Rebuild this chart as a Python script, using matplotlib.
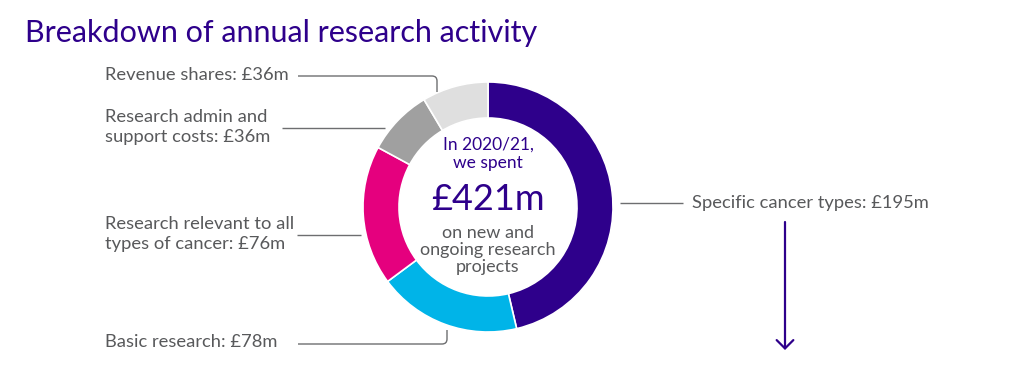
import matplotlib
matplotlib.use("Agg")
import matplotlib.pyplot as plt
from matplotlib.path import Path
from matplotlib.patches import PathPatch

plt.rcParams['font.family'] = ['Lato', 'DejaVu Sans']

# ---- data ----
categories = ["Specific cancer types", "Basic research",
              "Research relevant to all types of cancer",
              "Research admin and support costs", "Revenue shares"]
values = [195, 78, 76, 36, 36]
colors = ["#2E008B", "#00B4E8", "#E5007E", "#A0A0A0", "#DFDFDF"]
label_texts = ["Specific cancer types: £195m",
               "Basic research: £78m",
               "Research relevant to all\ntypes of cancer: £76m",
               "Research admin and\nsupport costs: £36m",
               "Revenue shares: £36m"]
total_label = "£421m"
title = "Breakdown of annual research activity"

PURPLE = "#2E008B"
GREY_TXT = "#58595B"
LINE = "#6D6E70"

W, H = 1024, 371
fig = plt.figure(figsize=(W / 100, H / 100), dpi=100)
ax = fig.add_axes([0, 0, 1, 1])

def Y(y):
    return H - y

cx, cy, R, RW = 488, Y(207), 125, 36
ax.pie(values, colors=colors, startangle=90, counterclock=False,
       radius=R, center=(cx, cy),
       wedgeprops=dict(width=RW, edgecolor="white", linewidth=1.2))
ax.set_xlim(0, W)
ax.set_ylim(0, H)
ax.set_aspect('equal')
ax.axis('off')

# title
ax.text(25, Y(33), title, fontsize=22, color=PURPLE, va='center', ha='left')

# labels
lab_fs = 13.2
ax.text(105, Y(75), label_texts[4], fontsize=lab_fs, color=GREY_TXT, va='center', ha='left')
ax.text(105, Y(127), label_texts[3], fontsize=lab_fs, color=GREY_TXT, va='center', ha='left',
        linespacing=1.25)
ax.text(105, Y(234), label_texts[2], fontsize=lab_fs, color=GREY_TXT, va='center', ha='left',
        linespacing=1.25)
ax.text(105, Y(342), label_texts[1], fontsize=lab_fs, color=GREY_TXT, va='center', ha='left')
ax.text(692, Y(203), label_texts[0], fontsize=lab_fs, color=GREY_TXT, va='center', ha='left')

# leader lines
def leader(points, codes):
    p = Path([(x, Y(y)) for x, y in points], codes)
    ax.add_patch(PathPatch(p, facecolor='none', edgecolor=LINE, lw=1.0))

leader([(298, 76), (432, 76), (437, 76), (437, 81), (437, 92)],
       [Path.MOVETO, Path.LINETO, Path.CURVE3, Path.CURVE3, Path.LINETO])
leader([(282, 128), (385, 128)], [Path.MOVETO, Path.LINETO])
leader([(297, 235), (361, 235)], [Path.MOVETO, Path.LINETO])
leader([(298, 344), (442, 344), (447, 344), (447, 339), (447, 330)],
       [Path.MOVETO, Path.LINETO, Path.CURVE3, Path.CURVE3, Path.LINETO])
leader([(620, 203), (683, 203)], [Path.MOVETO, Path.LINETO])

# arrow
ax.annotate('', xy=(785, Y(350)), xytext=(785, Y(222)),
            arrowprops=dict(arrowstyle='->,head_length=0.6,head_width=0.6',
                            color=PURPLE, lw=1.6, mutation_scale=10,
                            shrinkA=0, shrinkB=0))

# centre text
ax.text(cx, Y(145), "In 2020/21,", fontsize=12.5, color=PURPLE, ha='center', va='center')
ax.text(cx, Y(163), "we spent", fontsize=12.5, color=PURPLE, ha='center', va='center')
ax.text(cx, Y(200), total_label, fontsize=26, color=PURPLE, ha='center', va='center')
ax.text(cx, Y(250), "on new and\nongoing research\nprojects", fontsize=13,
        color=GREY_TXT, ha='center', va='center', linespacing=1.08)

fig.savefig("out.png", dpi=100)
